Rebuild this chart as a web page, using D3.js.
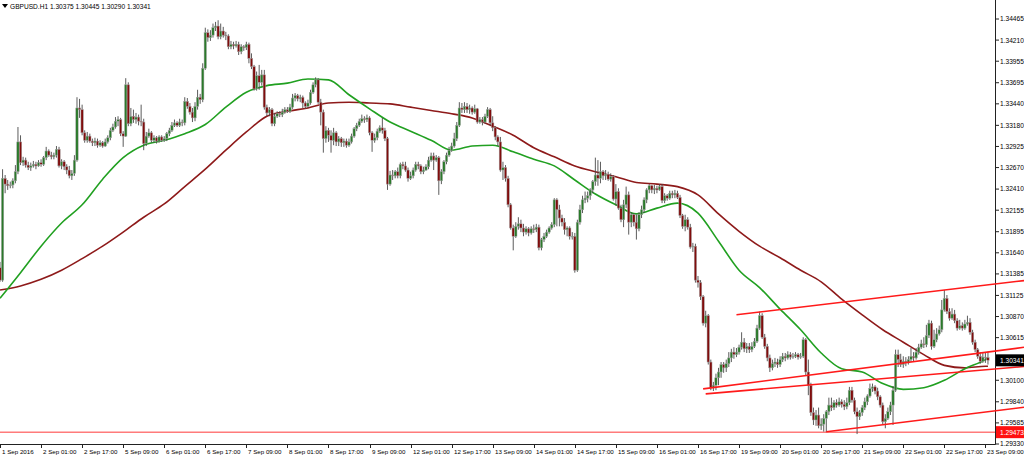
<!DOCTYPE html>
<html><head><meta charset="utf-8">
<script src="https://cdn.jsdelivr.net/npm/d3@7"></script>
<style>html,body{margin:0;padding:0;background:#fff;overflow:hidden}svg{display:block}</style>
</head><body><svg id="c" width="1024" height="457"></svg>
<script>
const symbol = "GBPUSD.H1";
const lastQuote = ["1.30375", "1.30445", "1.30290", "1.30341"];
const currentPrice = 1.30341;
const levelPrice = 1.29473;

const close = [1.3131,1.3254,1.3247,1.3245,1.3246,1.3251,1.3262,1.3298,1.3273,1.3276,1.3270,1.3267,1.3269,1.3271,1.3269,1.3273,1.3271,1.3279,1.3287,1.3282,
1.3280,1.3282,1.3289,1.3269,1.3274,1.3268,1.3264,1.3257,1.3260,1.3276,1.3339,1.3337,1.3309,1.3300,1.3305,1.3299,1.3297,1.3299,1.3294,1.3297,
1.3293,1.3298,1.3303,1.3312,1.3316,1.3323,1.3325,1.3308,1.3305,1.3367,1.3320,1.3329,1.3325,1.3328,1.3323,1.3322,1.3296,1.3305,1.3309,1.3300,
1.3303,1.3299,1.3304,1.3300,1.3302,1.3308,1.3312,1.3318,1.3321,1.3318,1.3322,1.3321,1.3347,1.3341,1.3334,1.3327,1.3341,1.3352,1.3349,1.3387,
1.3430,1.3424,1.3427,1.3436,1.3438,1.3425,1.3432,1.3427,1.3426,1.3413,1.3416,1.3414,1.3416,1.3407,1.3413,1.3412,1.3416,1.3399,1.3389,1.3362,
1.3378,1.3370,1.3379,1.3340,1.3333,1.3337,1.3320,1.3329,1.3332,1.3331,1.3334,1.3337,1.3335,1.3340,1.3351,1.3354,1.3350,1.3352,1.3345,1.3341,
1.3345,1.3358,1.3367,1.3373,1.3346,1.3334,1.3302,1.3312,1.3306,1.3300,1.3309,1.3298,1.3302,1.3297,1.3299,1.3294,1.3298,1.3305,1.3314,1.3318,
1.3323,1.3326,1.3325,1.3327,1.3309,1.3300,1.3303,1.3311,1.3315,1.3312,1.3302,1.3247,1.3258,1.3257,1.3262,1.3257,1.3271,1.3269,1.3264,1.3254,
1.3257,1.3264,1.3271,1.3269,1.3262,1.3264,1.3268,1.3276,1.3281,1.3276,1.3279,1.3251,1.3262,1.3274,1.3282,1.3288,1.3293,1.3302,1.3318,1.3339,
1.3337,1.3341,1.3337,1.3339,1.3334,1.3338,1.3322,1.3325,1.3322,1.3329,1.3337,1.3321,1.3315,1.3304,1.3298,1.3264,1.3267,1.3254,1.3222,1.3194,
1.3184,1.3196,1.3199,1.3194,1.3189,1.3193,1.3188,1.3193,1.3192,1.3195,1.3170,1.3180,1.3184,1.3189,1.3194,1.3198,1.3228,1.3216,1.3206,1.3201,
1.3192,1.3194,1.3184,1.3184,1.3143,1.3201,1.3216,1.3228,1.3230,1.3233,1.3240,1.3250,1.3258,1.3254,1.3262,1.3257,1.3259,1.3253,1.3256,1.3229,
1.3238,1.3218,1.3204,1.3222,1.3234,1.3201,1.3210,1.3201,1.3193,1.3210,1.3216,1.3228,1.3240,1.3245,1.3240,1.3242,1.3240,1.3244,1.3227,1.3233,
1.3230,1.3236,1.3234,1.3236,1.3231,1.3209,1.3196,1.3204,1.3195,1.3171,1.3172,1.3131,1.3128,1.3111,1.3079,1.3088,1.3032,1.3001,1.3004,1.3013,
1.3020,1.3029,1.3025,1.3030,1.3037,1.3044,1.3041,1.3044,1.3050,1.3056,1.3048,1.3051,1.3047,1.3051,1.3057,1.3073,1.3088,1.3062,1.3051,1.3037,
1.3025,1.3030,1.3032,1.3029,1.3035,1.3039,1.3037,1.3041,1.3038,1.3039,1.3041,1.3038,1.3039,1.3059,1.3020,1.3004,1.2971,1.2962,1.2968,1.2955,
1.2957,1.2964,1.2972,1.2980,1.2977,1.2983,1.2980,1.2984,1.2981,1.2978,1.2983,1.2998,1.2986,1.2972,1.2966,1.2971,1.2977,1.2984,1.2991,1.3000,
1.3002,1.2997,1.2990,1.2980,1.2960,1.2964,1.2972,1.2980,1.2998,1.3041,1.3035,1.3029,1.3033,1.3031,1.3035,1.3039,1.3037,1.3044,1.3050,1.3054,
1.3053,1.3064,1.3079,1.3051,1.3059,1.3066,1.3071,1.3095,1.3109,1.3093,1.3085,1.3090,1.3082,1.3073,1.3076,1.3073,1.3078,1.3080,1.3068,1.3056,
1.3047,1.3039,1.3033,1.3038,1.30375,1.30341];

const open = [1.3146,1.3131,1.3254,1.3247,1.3245,1.3246,1.3251,1.3262,1.3298,1.3273,1.3276,1.3270,1.3267,1.3269,1.3271,1.3269,1.3273,1.3271,1.3279,1.3287,
1.3282,1.3280,1.3282,1.3289,1.3269,1.3274,1.3268,1.3264,1.3257,1.3260,1.3276,1.3339,1.3337,1.3309,1.3300,1.3305,1.3299,1.3297,1.3299,1.3294,
1.3297,1.3293,1.3298,1.3303,1.3312,1.3316,1.3323,1.3325,1.3308,1.3305,1.3367,1.3320,1.3329,1.3325,1.3328,1.3323,1.3322,1.3296,1.3305,1.3309,
1.3300,1.3303,1.3299,1.3304,1.3300,1.3302,1.3308,1.3312,1.3318,1.3321,1.3318,1.3322,1.3321,1.3347,1.3341,1.3334,1.3327,1.3341,1.3352,1.3349,
1.3387,1.3430,1.3424,1.3427,1.3436,1.3438,1.3425,1.3432,1.3427,1.3426,1.3413,1.3416,1.3414,1.3416,1.3407,1.3413,1.3412,1.3416,1.3399,1.3389,
1.3362,1.3378,1.3370,1.3379,1.3340,1.3333,1.3337,1.3320,1.3329,1.3332,1.3331,1.3334,1.3337,1.3335,1.3340,1.3351,1.3354,1.3350,1.3352,1.3345,
1.3341,1.3345,1.3358,1.3367,1.3373,1.3346,1.3334,1.3302,1.3312,1.3306,1.3300,1.3309,1.3298,1.3302,1.3297,1.3299,1.3294,1.3298,1.3305,1.3314,
1.3318,1.3323,1.3326,1.3325,1.3327,1.3309,1.3300,1.3303,1.3311,1.3315,1.3312,1.3302,1.3247,1.3258,1.3257,1.3262,1.3257,1.3271,1.3269,1.3264,
1.3254,1.3257,1.3264,1.3271,1.3269,1.3262,1.3264,1.3268,1.3276,1.3281,1.3276,1.3279,1.3251,1.3262,1.3274,1.3282,1.3288,1.3293,1.3302,1.3318,
1.3339,1.3337,1.3341,1.3337,1.3339,1.3334,1.3338,1.3322,1.3325,1.3322,1.3329,1.3337,1.3321,1.3315,1.3304,1.3298,1.3264,1.3267,1.3254,1.3222,
1.3194,1.3184,1.3196,1.3199,1.3194,1.3189,1.3193,1.3188,1.3193,1.3192,1.3195,1.3170,1.3180,1.3184,1.3189,1.3194,1.3198,1.3228,1.3216,1.3206,
1.3201,1.3192,1.3194,1.3184,1.3184,1.3143,1.3201,1.3216,1.3228,1.3230,1.3233,1.3240,1.3250,1.3258,1.3254,1.3262,1.3257,1.3259,1.3253,1.3256,
1.3229,1.3238,1.3218,1.3204,1.3222,1.3234,1.3201,1.3210,1.3201,1.3193,1.3210,1.3216,1.3228,1.3240,1.3245,1.3240,1.3242,1.3240,1.3244,1.3227,
1.3233,1.3230,1.3236,1.3234,1.3236,1.3231,1.3209,1.3196,1.3204,1.3195,1.3171,1.3172,1.3131,1.3128,1.3111,1.3079,1.3088,1.3032,1.3001,1.3004,
1.3013,1.3020,1.3029,1.3025,1.3030,1.3037,1.3044,1.3041,1.3044,1.3050,1.3056,1.3048,1.3051,1.3047,1.3051,1.3057,1.3073,1.3088,1.3062,1.3051,
1.3037,1.3025,1.3030,1.3032,1.3029,1.3035,1.3039,1.3037,1.3041,1.3038,1.3039,1.3041,1.3038,1.3039,1.3059,1.3020,1.3004,1.2971,1.2962,1.2968,
1.2955,1.2957,1.2964,1.2972,1.2980,1.2977,1.2983,1.2980,1.2984,1.2981,1.2978,1.2983,1.2998,1.2986,1.2972,1.2966,1.2971,1.2977,1.2984,1.2991,
1.3000,1.3002,1.2997,1.2990,1.2980,1.2960,1.2964,1.2972,1.2980,1.2998,1.3041,1.3035,1.3029,1.3033,1.3031,1.3035,1.3039,1.3037,1.3044,1.3050,
1.3054,1.3053,1.3064,1.3079,1.3051,1.3059,1.3066,1.3071,1.3095,1.3109,1.3093,1.3085,1.3090,1.3082,1.3073,1.3076,1.3073,1.3078,1.3080,1.3068,
1.3056,1.3047,1.3039,1.3033,1.3038,1.30375];

const high = [1.3153,1.3265,1.3258,1.3252,1.3250,1.3254,1.3270,1.3316,1.3306,1.3280,1.3279,1.3274,1.3273,1.3275,1.3274,1.3276,1.3277,1.3281,1.3292,1.3289,
1.3286,1.3285,1.3293,1.3292,1.3277,1.3276,1.3271,1.3269,1.3264,1.3282,1.3352,1.3350,1.3343,1.3312,1.3310,1.3308,1.3302,1.3303,1.3302,1.3300,
1.3299,1.3302,1.3306,1.3315,1.3320,1.3328,1.3329,1.3327,1.3311,1.3375,1.3370,1.3339,1.3337,1.3333,1.3331,1.3343,1.3326,1.3310,1.3314,1.3311,
1.3306,1.3305,1.3306,1.3306,1.3305,1.3310,1.3315,1.3322,1.3325,1.3323,1.3326,1.3325,1.3352,1.3351,1.3345,1.3339,1.3346,1.3361,1.3356,1.3393,
1.3436,1.3434,1.3433,1.3441,1.3443,1.3445,1.3441,1.3437,1.3431,1.3428,1.3420,1.3419,1.3420,1.3419,1.3416,1.3415,1.3419,1.3418,1.3405,1.3391,
1.3383,1.3391,1.3385,1.3385,1.3343,1.3340,1.3339,1.3333,1.3335,1.3335,1.3338,1.3340,1.3340,1.3344,1.3356,1.3357,1.3356,1.3355,1.3354,1.3347,
1.3349,1.3361,1.3370,1.3376,1.3375,1.3350,1.3337,1.3317,1.3315,1.3312,1.3315,1.3311,1.3305,1.3304,1.3302,1.3302,1.3302,1.3308,1.3316,1.3321,
1.3326,1.3331,1.3329,1.3331,1.3329,1.3311,1.3308,1.3314,1.3318,1.3327,1.3315,1.3304,1.3263,1.3264,1.3264,1.3267,1.3273,1.3274,1.3274,1.3267,
1.3262,1.3267,1.3274,1.3274,1.3271,1.3268,1.3271,1.3280,1.3285,1.3285,1.3282,1.3281,1.3265,1.3276,1.3285,1.3292,1.3297,1.3309,1.3322,1.3346,
1.3345,1.3346,1.3345,1.3343,1.3341,1.3343,1.3339,1.3328,1.3328,1.3332,1.3340,1.3339,1.3329,1.3317,1.3306,1.3304,1.3274,1.3270,1.3257,1.3224,
1.3198,1.3201,1.3207,1.3204,1.3199,1.3196,1.3195,1.3196,1.3198,1.3199,1.3198,1.3182,1.3188,1.3192,1.3196,1.3201,1.3230,1.3230,1.3222,1.3210,
1.3206,1.3196,1.3196,1.3189,1.3188,1.3204,1.3222,1.3233,1.3238,1.3238,1.3242,1.3252,1.3279,1.3276,1.3274,1.3264,1.3264,1.3262,1.3260,1.3258,
1.3247,1.3242,1.3222,1.3228,1.3244,1.3238,1.3213,1.3212,1.3210,1.3213,1.3221,1.3231,1.3242,1.3247,1.3246,1.3246,1.3245,1.3247,1.3247,1.3236,
1.3235,1.3239,1.3239,1.3240,1.3239,1.3234,1.3211,1.3210,1.3207,1.3199,1.3176,1.3175,1.3136,1.3131,1.3113,1.3094,1.3090,1.3035,1.3008,1.3018,
1.3025,1.3032,1.3032,1.3035,1.3044,1.3048,1.3050,1.3049,1.3053,1.3068,1.3061,1.3055,1.3055,1.3056,1.3061,1.3077,1.3093,1.3091,1.3066,1.3054,
1.3041,1.3035,1.3037,1.3036,1.3039,1.3043,1.3043,1.3045,1.3044,1.3043,1.3044,1.3043,1.3043,1.3062,1.3061,1.3035,1.3007,1.2977,1.2974,1.2977,
1.2964,1.2969,1.2974,1.2989,1.2989,1.2986,1.2987,1.2989,1.2987,1.2986,1.2989,1.3002,1.3002,1.2989,1.2977,1.2974,1.2980,1.2989,1.2993,1.3006,
1.3006,1.3004,1.3001,1.2992,1.2983,1.2969,1.2977,1.2984,1.3003,1.3047,1.3047,1.3042,1.3039,1.3038,1.3039,1.3049,1.3044,1.3049,1.3054,1.3059,
1.3062,1.3077,1.3083,1.3082,1.3071,1.3073,1.3076,1.3107,1.3119,1.3113,1.3097,1.3097,1.3095,1.3085,1.3083,1.3080,1.3083,1.3088,1.3085,1.3071,
1.3059,1.3049,1.3044,1.3044,1.3044,1.30445];

const low = [1.3129,1.3129,1.3236,1.3240,1.3242,1.3242,1.3248,1.3259,1.3270,1.3269,1.3267,1.3264,1.3263,1.3267,1.3265,1.3268,1.3268,1.3269,1.3276,1.3280,
1.3277,1.3277,1.3279,1.3267,1.3265,1.3264,1.3259,1.3254,1.3252,1.3257,1.3274,1.3327,1.3306,1.3297,1.3297,1.3297,1.3293,1.3293,1.3291,1.3292,
1.3291,1.3292,1.3296,1.3300,1.3310,1.3314,1.3317,1.3305,1.3292,1.3304,1.3317,1.3317,1.3321,1.3320,1.3318,1.3317,1.3288,1.3293,1.3303,1.3297,
1.3297,1.3296,1.3297,1.3298,1.3298,1.3299,1.3305,1.3310,1.3316,1.3316,1.3316,1.3317,1.3318,1.3338,1.3331,1.3322,1.3323,1.3337,1.3344,1.3346,
1.3385,1.3419,1.3420,1.3424,1.3432,1.3422,1.3422,1.3424,1.3421,1.3410,1.3410,1.3410,1.3412,1.3403,1.3404,1.3408,1.3409,1.3393,1.3386,1.3360,
1.3360,1.3361,1.3366,1.3337,1.3329,1.3329,1.3317,1.3317,1.3327,1.3328,1.3328,1.3332,1.3333,1.3333,1.3338,1.3347,1.3347,1.3346,1.3339,1.3338,
1.3339,1.3343,1.3356,1.3364,1.3344,1.3318,1.3285,1.3297,1.3298,1.3285,1.3294,1.3293,1.3293,1.3292,1.3292,1.3291,1.3292,1.3296,1.3303,1.3311,
1.3316,1.3321,1.3321,1.3322,1.3306,1.3286,1.3297,1.3300,1.3309,1.3308,1.3299,1.3240,1.3245,1.3252,1.3254,1.3254,1.3254,1.3265,1.3262,1.3250,
1.3252,1.3254,1.3262,1.3265,1.3259,1.3259,1.3263,1.3265,1.3274,1.3264,1.3274,1.3234,1.3247,1.3259,1.3271,1.3280,1.3286,1.3291,1.3299,1.3316,
1.3333,1.3333,1.3333,1.3332,1.3331,1.3332,1.3320,1.3320,1.3318,1.3320,1.3327,1.3318,1.3311,1.3300,1.3293,1.3262,1.3252,1.3250,1.3219,1.3192,
1.3167,1.3182,1.3192,1.3189,1.3184,1.3186,1.3184,1.3186,1.3188,1.3189,1.3167,1.3167,1.3177,1.3182,1.3187,1.3192,1.3195,1.3196,1.3196,1.3196,
1.3186,1.3184,1.3180,1.3180,1.3140,1.3141,1.3198,1.3212,1.3224,1.3225,1.3228,1.3236,1.3245,1.3245,1.3248,1.3252,1.3252,1.3251,1.3250,1.3227,
1.3221,1.3216,1.3201,1.3195,1.3218,1.3186,1.3195,1.3196,1.3180,1.3190,1.3206,1.3212,1.3224,1.3236,1.3236,1.3235,1.3236,1.3239,1.3224,1.3224,
1.3227,1.3228,1.3230,1.3230,1.3229,1.3206,1.3193,1.3190,1.3192,1.3169,1.3165,1.3128,1.3122,1.3107,1.3076,1.3074,1.3029,1.2998,1.2997,1.2998,
1.3004,1.3013,1.3019,1.3020,1.3026,1.3032,1.3036,1.3038,1.3041,1.3047,1.3044,1.3043,1.3043,1.3044,1.3049,1.3055,1.3071,1.3060,1.3048,1.3033,
1.3020,1.3022,1.3026,1.3025,1.3026,1.3032,1.3033,1.3035,1.3035,1.3036,1.3037,1.3035,1.3036,1.3037,1.3016,1.2992,1.2967,1.2956,1.2955,1.2952,
1.2950,1.2948,1.29473,1.2968,1.2973,1.2974,1.2977,1.2978,1.2977,1.2974,1.2975,1.2980,1.2983,1.2969,1.2945,1.2962,1.2967,1.2974,1.2980,1.2989,
1.2996,1.2993,1.2986,1.2977,1.2957,1.2952,1.2962,1.2968,1.2956,1.2996,1.3026,1.3026,1.3025,1.3027,1.3029,1.3032,1.3033,1.3035,1.3041,1.3048,
1.3049,1.3050,1.3061,1.3047,1.3049,1.3056,1.3064,1.3068,1.3093,1.3090,1.3082,1.3083,1.3079,1.3070,1.3071,1.3070,1.3071,1.3076,1.3065,1.3053,
1.3044,1.3036,1.3030,1.3031,1.3031,1.30290];

// moving averages, read at every 8th bar
const maBars = [0,8,16,24,32,40,48,56,64,72,80,88,96,104,112,120,128,136,144,152,160,168,176,184,192,200,208,216,224,232,240,248,256,264,272,280,288,296,304,312,320,328,336,344,352,360,368,376,384,385];
const maFast = [1.3109,1.3140,1.3172,1.3200,1.3222,1.3253,1.3279,1.3294,1.3300,1.3308,1.3319,1.3340,1.3358,1.3366,1.3369,1.3374,1.3373,1.3355,1.3338,1.3322,1.3311,1.3300,1.3288,1.3293,1.3294,1.3286,1.3277,1.3269,1.3252,1.3235,1.3222,1.3211,1.3218,1.3224,1.3212,1.3178,1.3143,1.3122,1.3096,1.3071,1.3043,1.3024,1.3020,1.3006,1.2999,1.3001,1.3010,1.3024,1.3035,1.3037];
const maSlow = [1.3119,1.3124,1.3132,1.3143,1.3157,1.3172,1.3189,1.3207,1.3223,1.3244,1.3265,1.3288,1.3310,1.3329,1.3335,1.3339,1.3345,1.3346,1.3345,1.3344,1.3340,1.3336,1.3332,1.3327,1.3317,1.3306,1.3291,1.3280,1.3269,1.3262,1.3256,1.3249,1.3247,1.3244,1.3234,1.3211,1.3190,1.3172,1.3158,1.3143,1.3129,1.3108,1.3089,1.3071,1.3056,1.3041,1.3028,1.3025,1.3027,1.3027];

// trend lines (rays), anchor points as bar index / price
const trendBar1 = [287, 274, 275, 322];
const trendPrice1 = [1.30891, 1.29996, 1.29936, 1.29478];
const trendBar2 = [368, 385, 385, 385];
const trendPrice2 = [1.31190, 1.30442, 1.30229, 1.29720];

const timeLabels = ["1 Sep 2016","2 Sep 01:00","2 Sep 17:00","5 Sep 09:00","6 Sep 01:00","6 Sep 17:00","7 Sep 09:00","8 Sep 01:00","8 Sep 17:00","9 Sep 09:00","12 Sep 01:00","12 Sep 17:00","13 Sep 09:00","14 Sep 01:00","14 Sep 17:00","15 Sep 09:00","16 Sep 01:00","16 Sep 17:00","19 Sep 09:00","20 Sep 01:00","20 Sep 17:00","21 Sep 09:00","22 Sep 01:00","22 Sep 17:00","23 Sep 09:00"];
const labelStep = 16;
const priceTicks = ["1.34465","1.34210","1.33955","1.33695","1.33440","1.33180","1.32925","1.32670","1.32410","1.32155","1.31895","1.31640","1.31385","1.31125","1.30870","1.30615","1.30100","1.29840","1.29585","1.29330"];

const W = 1024, H = 457, axisX = 995, axisY = 444;
const FONT = "Liberation Sans, Arial, sans-serif";
const svg = d3.select("#c");
const x = d3.scaleLinear().domain([0, 384]).range([0, 985.4]);
const y = d3.scaleLinear().domain([1.29330, 1.34465]).range([444, 19]);

svg.append("rect").attr("width", W).attr("height", H).attr("fill", "#fff");
svg.append("clipPath").attr("id", "plot").append("rect").attr("x", 0).attr("y", 0).attr("width", axisX).attr("height", axisY);

const bars = d3.range(close.length).map(i => ({i, o: open[i], h: high[i], l: low[i], c: close[i]}));

const plot = svg.append("g").attr("clip-path", "url(#plot)");

// horizontal level line
plot.append("line").attr("x1", 0).attr("x2", axisX)
  .attr("y1", y(levelPrice)).attr("y2", y(levelPrice))
  .attr("stroke", "#ff7b7b").attr("stroke-width", 1.5);

// moving averages
const maPts = (arr) => maBars.map((b, k) => ({i: b, v: arr[k]}));
const line = d3.line().x(d => x(d.i)).y(d => y(d.v)).curve(d3.curveMonotoneX);
plot.append("path").attr("d", line(maPts(maSlow))).attr("fill", "none").attr("stroke", "#8e1a1a").attr("stroke-width", 1.6);
plot.append("path").attr("d", line(maPts(maFast))).attr("fill", "none").attr("stroke", "#21a021").attr("stroke-width", 1.6);

// candles
const cg = plot.append("g");
cg.selectAll("line.w").data(bars).join("line")
  .attr("x1", d => x(d.i)).attr("x2", d => x(d.i))
  .attr("y1", d => y(d.h)).attr("y2", d => y(d.l))
  .attr("stroke", "#4a4a4a").attr("stroke-width", 0.9);
cg.selectAll("rect.b").data(bars).join("rect")
  .attr("x", d => x(d.i) - 1.2).attr("width", 2.4)
  .attr("y", d => y(Math.max(d.o, d.c)))
  .attr("height", d => Math.max(0.8, Math.abs(y(d.o) - y(d.c))))
  .attr("fill", d => d.c >= d.o ? "#2b7a2b" : "#800d0d")
  .attr("stroke", "#a8a8a8").attr("stroke-width", 0.5);

// axes lines
svg.append("line").attr("x1", axisX + 0.5).attr("x2", axisX + 0.5).attr("y1", 0).attr("y2", axisY + 0.5).attr("stroke", "#222").attr("stroke-width", 1);
svg.append("line").attr("x1", 0).attr("x2", axisX + 0.5).attr("y1", axisY + 0.5).attr("y2", axisY + 0.5).attr("stroke", "#222").attr("stroke-width", 1);

// price axis
const pg = svg.append("g");
priceTicks.forEach(t => {
  const yy = y(+t);
  pg.append("line").attr("x1", axisX).attr("x2", axisX + 4).attr("y1", yy).attr("y2", yy).attr("stroke", "#222");
  pg.append("text").attr("x", axisX + 5).attr("y", yy + 2.4).text(t)
    .attr("font-family", FONT).attr("font-size", 6.6).attr("fill", "#000");
});

// time axis
const tg = svg.append("g");
timeLabels.forEach((t, k) => {
  const xx = Math.round(x(k * labelStep)) + 0.5;
  tg.append("line").attr("x1", xx).attr("x2", xx).attr("y1", axisY).attr("y2", axisY + 4).attr("stroke", "#222");
  tg.append("text").attr("x", xx + 1.5).attr("y", 453.5).text(t)
    .attr("font-family", FONT).attr("font-size", 6.2).attr("fill", "#000");
});

// trend lines (rays to the right edge)
trendBar1.forEach((b1, k) => {
  const x1 = x(b1), y1 = y(trendPrice1[k]);
  const x2 = x(trendBar2[k]), y2 = y(trendPrice2[k]);
  const s = (y2 - y1) / (x2 - x1);
  svg.append("line").attr("x1", x1).attr("y1", y1).attr("x2", W).attr("y2", y1 + s * (W - x1))
    .attr("stroke", "#ff1a1a").attr("stroke-width", 1.6);
});

// price labels
function priceBox(p, fill) {
  const yy = y(p);
  svg.append("rect").attr("x", axisX + 1).attr("y", yy - 6).attr("width", W - axisX - 1).attr("height", 12).attr("fill", fill);
  svg.append("text").attr("x", axisX + 5).attr("y", yy + 2.4).text(p.toFixed(5))
    .attr("font-family", FONT).attr("font-size", 6.6).attr("fill", "#fff");
}
priceBox(levelPrice, "#ff1010");
priceBox(currentPrice, "#000");

// header
svg.append("path").attr("d", "M2,4 L8,4 L5,8 Z").attr("fill", "#000");
svg.append("text").attr("x", 10).attr("y", 8.5)
  .text(symbol + "  " + lastQuote.join(" "))
  .attr("font-family", FONT).attr("font-size", 6.6).attr("fill", "#000");
</script>
</body></html>
